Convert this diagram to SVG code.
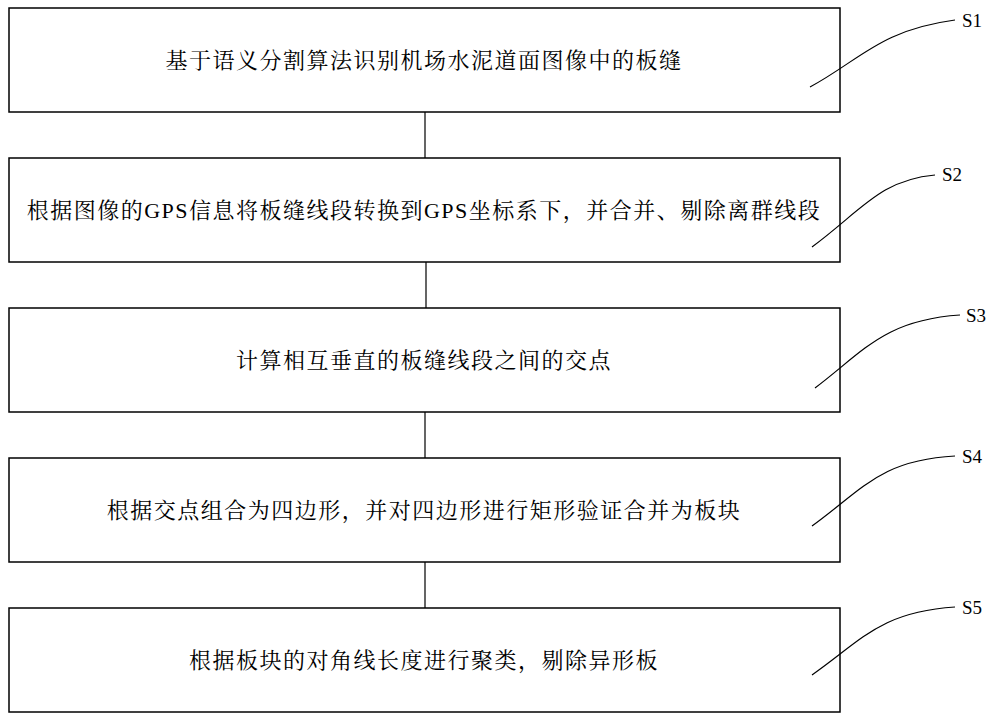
<svg xmlns="http://www.w3.org/2000/svg" width="1000" height="721" viewBox="0 0 1000 721">
<style>
.b{fill:#fff;stroke:#000;stroke-width:1.5}
.t{font-family:"Liberation Serif","Noto Serif CJK SC","Noto Sans CJK SC",serif;font-size:22px;letter-spacing:1.5px;text-anchor:middle;fill:#000}
.l{font-family:"Liberation Serif","Noto Sans CJK SC",serif;font-size:19px;fill:#000}
.c{fill:none;stroke:#000;stroke-width:1.2}
</style>
<rect width="1000" height="721" fill="#fff"/>
<g id="s1"><rect class="b" x="9" y="8" width="831" height="104"/><text class="t" x="424" y="68">基于语义分割算法识别机场水泥道面图像中的板缝</text><text class="l" x="962" y="27">S1</text></g>
<g id="s2"><rect class="b" x="9" y="158" width="831" height="104"/><text class="t" x="424" y="218">根据图像的GPS信息将板缝线段转换到GPS坐标系下，并合并、剔除离群线段</text><text class="l" x="942" y="181">S2</text></g>
<g id="s3"><rect class="b" x="9" y="308" width="831" height="104"/><text class="t" x="424" y="368">计算相互垂直的板缝线段之间的交点</text><text class="l" x="966" y="322">S3</text></g>
<g id="s4"><rect class="b" x="9" y="458" width="831" height="104"/><text class="t" x="424" y="518">根据交点组合为四边形，并对四边形进行矩形验证合并为板块</text><text class="l" x="962" y="463">S4</text></g>
<g id="s5"><rect class="b" x="9" y="608" width="831" height="104"/><text class="t" x="424" y="668">根据板块的对角线长度进行聚类，剔除异形板</text><text class="l" x="962" y="614">S5</text></g>
<g id="connectors">
<path class="c" d="M425 112V158M426 262V308M425 412V458M425 562V608"/>
<path class="c" d="M810 87C860 60 880 30 955 20"/>
<path class="c" d="M812 247C862 210 880 180 935 175"/>
<path class="c" d="M815 388C865 350 885 320 960 315"/>
<path class="c" d="M812 526C862 490 880 460 955 456"/>
<path class="c" d="M812 675C862 640 880 612 955 607"/>
</g>
</svg>
